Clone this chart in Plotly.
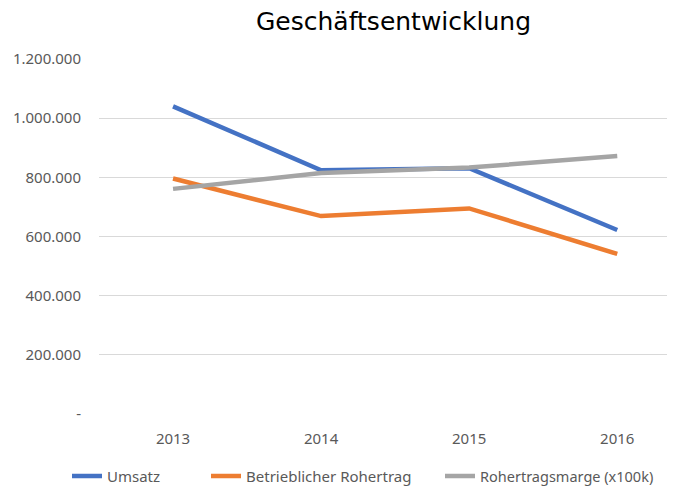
import plotly.graph_objects as go

years = ["2013", "2014", "2015", "2016"]
umsatz = [1040000, 824000, 831000, 622000]
rohertrag = [796000, 669000, 695000, 541000]
marge = [761000, 815000, 833000, 872000]

y_ticks = [0, 200000, 400000, 600000, 800000, 1000000, 1200000]
y_ticktext = ["-", "200.000", "400.000", "600.000", "800.000", "1.000.000", "1.200.000"]

FONT = "Noto Sans, sans-serif"
GRAY_TXT = "#595959"

fig = go.Figure()
series = [
    ("Umsatz", umsatz, "#4472C4", "legend"),
    ("Betrieblicher Rohertrag", rohertrag, "#ED7D31", "legend2"),
    ("Rohertragsmarge (x100k)", marge, "#A5A5A5", "legend3"),
]
x_idx = list(range(len(years)))
for name, vals, col, lg in series:
    fig.add_trace(go.Scatter(x=x_idx, y=vals, name=name, mode="lines", legend=lg,
                             line=dict(color=col, width=4.5)))

# plot area: 576 px wide starting at fig x=91 (page has an 8px body offset)
def px_to_paper(px_screen):
    return (px_screen - 8 - 91) / 576.0

leg_common = dict(orientation="h", xanchor="left", y=-0.175, yanchor="middle",
                  font=dict(family=FONT, size=15, color=GRAY_TXT), itemwidth=30,
                  bgcolor="rgba(0,0,0,0)")

fig.update_layout(
    width=667, height=480,
    margin=dict(l=91, r=0, t=51, b=74, autoexpand=False),
    paper_bgcolor="white", plot_bgcolor="white",
    title=dict(text="Geschäftsentwicklung", xref="container", x=0.578, xanchor="center",
               yref="container", y=1 - 13 / 480, yanchor="middle",
               font=dict(family="DejaVu Sans, sans-serif", size=25, color="#000000")),
    font=dict(family=FONT, size=14, color=GRAY_TXT),
    showlegend=True,
    legend=dict(leg_common, x=px_to_paper(67)),
    legend2=dict(leg_common, x=px_to_paper(206)),
    legend3=dict(leg_common, x=px_to_paper(440),
                 font=dict(family=FONT, size=14.5, color=GRAY_TXT)),
)
fig.update_xaxes(
    range=[-0.5, 3.39], tickmode="array", tickvals=x_idx, ticktext=years,
    showgrid=False, zeroline=False, showline=False, ticks="", ticklabelstandoff=14,
    tickfont=dict(family=FONT, size=15, color=GRAY_TXT), fixedrange=True,
)
fig.update_yaxes(
    range=[0, 1200000], tickmode="array", tickvals=y_ticks, ticktext=y_ticktext,
    showgrid=True, gridcolor="#D9D9D9", gridwidth=1, zeroline=False, showline=False,
    ticks="", ticklabelstandoff=17,
    tickfont=dict(family=FONT, size=15, color=GRAY_TXT), fixedrange=True,
)

fig.write_html("out.html")
